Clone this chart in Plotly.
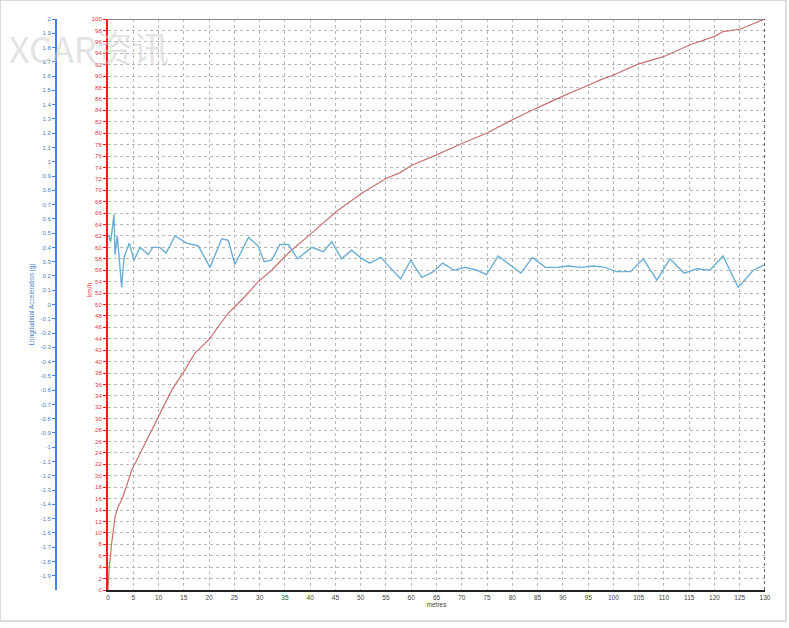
import plotly.graph_objects as go

# ---- data ----
speed_m = [0, 0.2, 0.73, 1.4, 2.0, 2.7, 3.4, 4.7, 6.0, 8.0, 10.3, 12.6, 15.2, 17.2, 19.2,
           20.2, 21.8, 23.8, 25.1, 27.1, 29.7, 32.4, 35.0, 36.3, 40.3, 45.2, 50.2, 55.1,
           57.8, 60.1, 65.0, 70.0, 74.9, 79.9, 84.8, 87.5, 90.0, 95.0, 97.3, 100.0, 104.9,
           109.9, 115.0, 120.1, 121.7, 125.0, 130.0]
speed_kmh = [0, 3.5, 8.2, 12.8, 14.6, 15.8, 17.5, 21.0, 23.3, 26.8, 30.9, 35.0, 38.5, 41.5,
             43.2, 44.1, 46.1, 48.5, 49.6, 51.4, 54.0, 56.0, 58.4, 59.5, 62.5, 66.3, 69.5,
             72.1, 73.1, 74.4, 76.2, 78.2, 80.0, 82.3, 84.4, 85.5, 86.5, 88.4, 89.3, 90.2,
             92.1, 93.4, 95.4, 97.0, 97.8, 98.2, 100.0]

acc_m = [0.06, 0.53, 1.19, 1.39, 1.84, 2.71, 3.17, 4.21, 5.14, 6.33, 7.97, 8.84, 10.29,
         11.48, 13.26, 15.57, 17.87, 20.18, 22.5, 23.8, 25.1, 27.8, 29.7, 30.9, 32.4, 34.0,
         35.7, 37.5, 40.3, 42.6, 44.3, 46.2, 48.2, 49.9, 51.8, 54.0, 55.8, 57.9, 59.9, 62.1,
         64.4, 66.2, 68.5, 70.6, 73.0, 74.9, 77.2, 79.5, 81.7, 84.0, 86.5, 88.8, 91.1, 93.7,
         96.0, 98.3, 100.6, 103.4, 105.9, 108.6, 111.2, 114.0, 116.5, 119.1, 121.7, 124.7,
         127.7, 130.0]
acc_g = [0.49, 0.44, 0.63, 0.35, 0.48, 0.12, 0.33, 0.43, 0.31, 0.40, 0.35, 0.40, 0.40,
         0.36, 0.48, 0.43, 0.41, 0.26, 0.46, 0.45, 0.28, 0.47, 0.41, 0.30, 0.31, 0.42,
         0.42, 0.32, 0.40, 0.37, 0.44, 0.32, 0.38, 0.33, 0.29, 0.33, 0.26, 0.18, 0.31, 0.19,
         0.23, 0.29, 0.24, 0.26, 0.24, 0.21, 0.34, 0.28, 0.22, 0.33, 0.26, 0.26, 0.27, 0.26,
         0.27, 0.26, 0.23, 0.23, 0.32, 0.17, 0.32, 0.22, 0.25, 0.24, 0.34, 0.12, 0.24, 0.28]

x_ticks = list(range(0, 131, 5))
kmh_ticks = list(range(0, 101, 2))
g_ticks = [round(-1.9 + 0.1 * i, 1) for i in range(40)]
g_labels = [("%g" % v) for v in g_ticks]

W, H = 789, 628
ML, MR, MT, MB = 40, 24, 19, 38
plot_w = W - ML - MR
plot_h = H - MT - MB
x0_frac = (108 - ML) / plot_w
blue_pos = (56 - ML) / plot_w

FONT = "Liberation Sans, Arial, sans-serif"

fig = go.Figure()
fig.add_trace(go.Scatter(x=speed_m, y=speed_kmh, mode="lines",
                         line=dict(color="#c87070", width=1.2), yaxis="y", showlegend=False))
fig.add_trace(go.Scatter(x=acc_m, y=acc_g, mode="lines",
                         line=dict(color="#6aaed6", width=1.4), yaxis="y2", showlegend=False))

fig.update_layout(
    width=W, height=H,
    margin=dict(l=ML, r=MR, t=MT, b=MB),
    paper_bgcolor="white", plot_bgcolor="white",
    font=dict(family=FONT, size=6, color="#555"),
    xaxis=dict(domain=[x0_frac, 1], range=[0, 130], tickvals=x_ticks,
               ticktext=[str(v) for v in x_ticks],
               showgrid=True, gridcolor="#b8b8b8", griddash="dot", gridwidth=1,
               showline=True, linecolor="#222", linewidth=2, zeroline=False,
               ticks="", tickfont=dict(size=6.5, color="#444"),
               title=dict(text="metres", font=dict(size=6.5, color="#444"), standoff=2)),
    yaxis=dict(range=[0, 100], tickvals=kmh_ticks, ticktext=[str(v) for v in kmh_ticks],
               showgrid=True, gridcolor="#b8b8b8", griddash="dot", gridwidth=1,
               showline=True, linecolor="#ff1a1a", linewidth=2, zeroline=False,
               ticks="outside", ticklen=3, tickcolor="#ff1a1a",
               tickfont=dict(size=6, color="#e03a3a")),
    yaxis2=dict(range=[-2, 2], overlaying="y", anchor="free", position=blue_pos, side="left",
                tickvals=g_ticks, ticktext=g_labels, showgrid=False, zeroline=False,
                showline=True, linecolor="#3d7fff", linewidth=2,
                ticks="outside", ticklen=3, tickcolor="#3d7fff",
                tickfont=dict(size=6, color="#4a80c8"),
                title=dict(text="Longitudinal Acceleration (g)",
                           font=dict(size=6.5, color="#4a80c8"), standoff=4)),
    shapes=[
        dict(type="line", xref="x", yref="y", x0=0, x1=130, y0=100, y1=100,
             line=dict(color="#888", width=2)),
        dict(type="line", xref="x", yref="y", x0=130, x1=130, y0=0, y1=100,
             line=dict(color="#333", width=1.5, dash="dot")),
        dict(type="rect", xref="paper", yref="paper", x0=-ML / plot_w, x1=(786 - ML) / plot_w,
             y0=-(MB - 7) / plot_h, y1=1 + MT / plot_h,
             line=dict(color="#cfcfcf", width=1.5)),
    ],
    annotations=[
        dict(text="km/h", xref="paper", yref="paper",
             x=(89 - ML) / plot_w, y=(590 - 290) / plot_h,
             xanchor="center", yanchor="middle", textangle=-90, showarrow=False,
             font=dict(size=6.5, color="#e03a3a")),
        dict(text="XCAR资讯", xref="paper", yref="paper", x=-0.045, y=1.0,
             xanchor="left", yanchor="top", showarrow=False,
             font=dict(size=36, color="rgba(200,200,200,0.5)", family="Noto Sans CJK SC")),
    ],
)

fig.write_html("out.html", config={"displayModeBar": False},
               post_script="document.body.style.margin='0';document.body.style.padding='0';")
